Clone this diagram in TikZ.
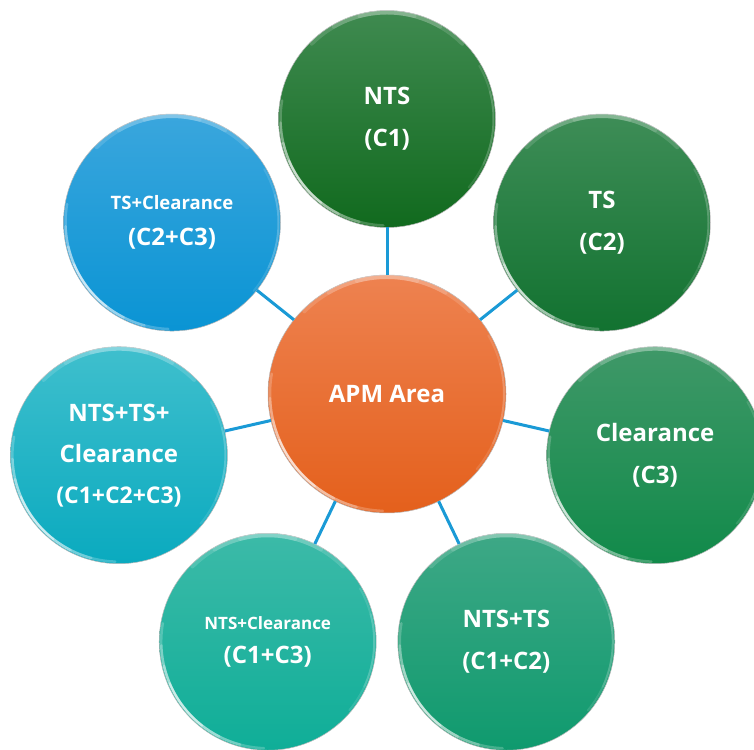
\documentclass[tikz,border=0pt]{standalone}
\usepackage{fontspec}
\setmainfont{Open Sans}
\definecolor{lnk}{HTML}{1A9AD6}
\definecolor{aT}{HTML}{3F8A50}\definecolor{aB}{HTML}{116A1E}
\definecolor{bT}{HTML}{3E8D57}\definecolor{bB}{HTML}{127230}
\definecolor{cT}{HTML}{3F9868}\definecolor{cB}{HTML}{118A4A}
\definecolor{dT}{HTML}{3EA886}\definecolor{dB}{HTML}{0F9A6E}
\definecolor{eT}{HTML}{3CBAA8}\definecolor{eB}{HTML}{0FAE98}
\definecolor{fT}{HTML}{3FBFCD}\definecolor{fB}{HTML}{0AAABF}
\definecolor{gT}{HTML}{3AA6DD}\definecolor{gB}{HTML}{0A94D4}
\definecolor{hT}{HTML}{EE8250}\definecolor{hB}{HTML}{E4601C}
\tikzset{
  bubble/.style={circle, draw=gray!55, line width=0.5pt, minimum size=217pt,
    inner sep=0pt, outer sep=0pt, text=white, align=center,
    font=\bfseries\fontsize{24}{42}\selectfont},
  hub/.style={bubble, minimum size=238pt},
  link/.style={draw=lnk, line width=3pt},
  shine/.style={white, opacity=#1, line cap=round},
}
% #1 node, #2 radius of rim highlight
\newcommand\garc[5]{% node, radius, start, end, style opts
  \draw[#5] ([shift={(#3:#2pt)}]#1.center) arc[start angle=#3, end angle=#4, radius=#2pt];}
\newcommand\glossy[2]{%
  \garc{#1}{#2}{45}{135}{shine=.14, line width=4pt}
  \garc{#1}{#2}{60}{120}{shine=.14, line width=4pt}
  \garc{#1}{#2}{75}{105}{shine=.14, line width=4pt}
  \garc{#1}{#2}{-40}{30}{shine=.12, line width=2pt}
  \garc{#1}{#2}{-25}{15}{shine=.12, line width=2pt}
  \garc{#1}{#2}{170}{268}{shine=.22, line width=2.5pt}
  \garc{#1}{#2}{182}{255}{shine=.25, line width=2.5pt}
  \garc{#1}{#2}{193}{243}{shine=.3, line width=2.5pt}
  \garc{#1}{#2}{203}{232}{shine=.45, line width=2pt}
}
\begin{document}
\begin{tikzpicture}[x=1pt,y=1pt]
\fill[white] (0,0) rectangle (754,749);
\useasboundingbox (0,0) rectangle (754,749);
\node[hub, top color=hT, bottom color=hB] (apm) at (387,355) {APM Area};
\node[bubble, top color=aT, bottom color=aB] (n1) at ([shift={(90:275pt)}]apm.center) {NTS\\(C1)};
\node[bubble, top color=bT, bottom color=bB] (n2) at ([shift={(38.57:275pt)}]apm.center) {TS\\(C2)};
\node[bubble, top color=cT, bottom color=cB] (n3) at ([shift={(-12.86:275pt)}]apm.center) {Clearance\\(C3)};
\node[bubble, top color=dT, bottom color=dB] (n4) at ([shift={(-64.29:275pt)}]apm.center) {NTS+TS\\(C1+C2)};
\node[bubble, top color=eT, bottom color=eB] (n5) at ([shift={(-115.71:275pt)}]apm.center) {{\fontsize{17}{20}\selectfont NTS+Clearance}\\[-8pt](C1+C3)};
\node[bubble, top color=fT, bottom color=fB] (n6) at ([shift={(-167.14:275pt)}]apm.center) {NTS+TS+\\[-1pt]Clearance\\[-1pt]{\fontsize{23}{40}\selectfont (C1+C2+C3)}};
\node[bubble, top color=gT, bottom color=gB] (n7) at ([shift={(141.43:275pt)}]apm.center) {{\fontsize{18.5}{22}\selectfont TS+Clearance}\\[-6pt](C2+C3)};
\foreach \n in {n1,n2,n3,n4,n5,n6,n7} {\draw[link] (apm) -- (\n);}
\glossy{apm}{117}
\foreach \n in {n1,n2,n3,n4,n5,n6,n7} {\glossy{\n}{106.5}}
\end{tikzpicture}
\end{document}
